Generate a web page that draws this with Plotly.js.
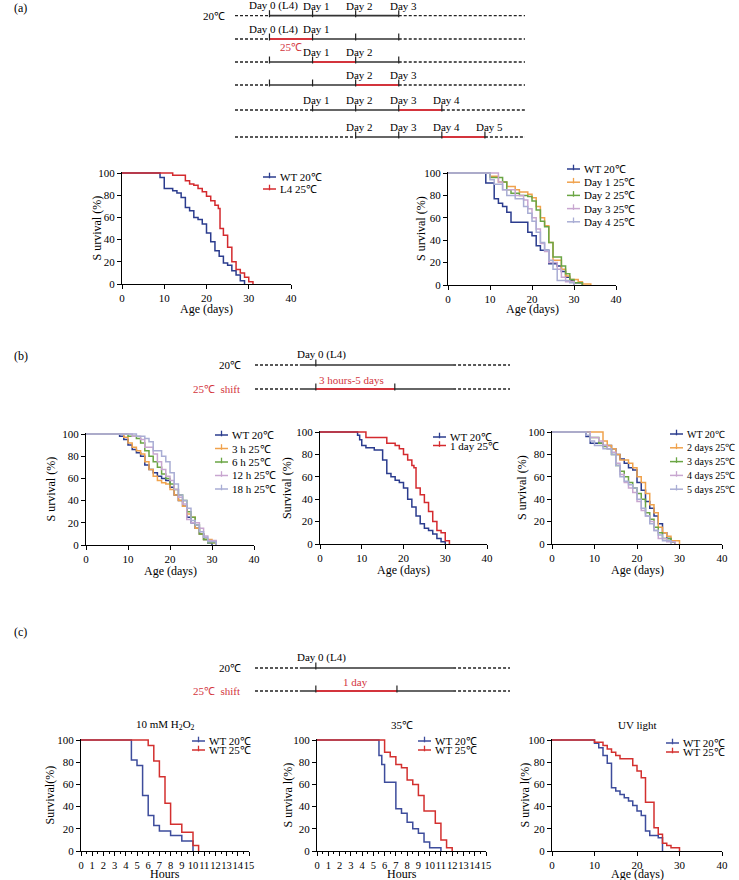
<!DOCTYPE html>
<html>
<head>
<meta charset="utf-8">
<script src="https://cdn.plot.ly/plotly-3.0.1.min.js"></script>
<style>
  html, body { margin: 0; padding: 0; background: #fff; }
  #chart { width: 739px; height: 880px; }
</style>
</head>
<body>
<div id="chart"></div>
<script>
// ---- survival data ----
// (a) left: WT 20C vs L4 shifted to 25C
const a1WtDays = [0, 9, 10, 12, 13, 14, 15, 16, 17, 18, 19, 20, 21, 22, 23, 24, 25, 26, 27, 28, 29];
const a1WtSurv = [100, 96, 86, 84, 82, 78, 69, 66, 60, 58, 54, 46, 38, 30, 25, 19, 17, 12, 8, 3, 0];
const a1L4Days = [0, 12, 15, 16, 17, 18, 19, 20, 21, 22, 22.8, 23.2, 24, 25, 26, 27, 28, 29, 30, 31];
const a1L4Surv = [100, 98, 93, 90, 89, 86, 83, 79, 75, 71, 68, 50, 44, 33, 20, 13, 10, 6, 2, 0];

// (a) right: one day at 25C, on day 1..4
const a2WtDays = [0, 9, 11, 12, 13, 14, 15, 19, 20, 21, 22, 24, 26, 27, 28, 29, 30, 32];
const a2WtSurv = [100, 91, 77, 73, 70, 65, 56, 47, 44, 35, 31, 19, 17, 12, 7, 4, 2, 0];
const a2D1Days = [0, 10, 12, 14, 16, 17, 19, 20, 21, 22, 23, 24, 25, 27, 28, 29, 31, 32, 34];
const a2D1Surv = [100, 97, 92, 88, 85, 83, 81, 78, 70, 60, 53, 38, 22, 14, 8, 5, 3, 1, 0];
const a2D2Days = [0, 10, 13, 14, 15, 17, 19, 20, 21, 22, 23, 24, 25, 27, 28, 29, 30, 32];
const a2D2Surv = [100, 96, 92, 85, 82, 80, 79, 75, 67, 57, 52, 38, 25, 17, 10, 5, 2, 0];
const a2D3Days = [0, 12, 13, 16, 18, 19, 20, 21, 22, 23, 24, 26, 27, 28, 30];
const a2D3Surv = [100, 92, 85, 80, 76, 68, 60, 50, 37, 30, 20, 14, 7, 3, 0];
const a2D4Days = [0, 10, 11, 13, 14, 16, 18, 19, 20, 21, 22, 23, 24, 25, 26, 29, 30];
const a2D4Surv = [100, 94, 90, 85, 80, 77, 70, 64, 57, 47, 38, 31, 22, 14, 4, 2, 0];

// (b) left: hours at 25C
const b1WtDays = [0, 8, 9, 10, 11, 12, 13, 14, 15, 16, 17, 18, 19, 20, 21, 22, 23, 24, 25, 26, 27, 28, 29, 30];
const b1WtSurv = [100, 98, 95, 90, 86, 83, 80, 72, 68, 65, 62, 60, 58, 52, 45, 40, 35, 25, 20, 15, 10, 5, 2, 0];
const b13hDays = [0, 9, 10, 11, 12, 13, 14, 15, 16, 17, 18, 19, 20, 21, 22, 23, 24, 25, 26, 27, 28, 30, 31];
const b13hSurv = [100, 97, 92, 88, 85, 82, 75, 68, 62, 58, 56, 55, 50, 45, 40, 35, 28, 25, 15, 10, 5, 2, 0];
const b16hDays = [0, 10, 12, 13, 14, 15, 16, 17, 18, 19, 20, 21, 22, 23, 24, 25, 26, 27, 28, 29, 31];
const b16hSurv = [100, 98, 96, 92, 85, 80, 75, 70, 64, 60, 55, 50, 45, 40, 30, 25, 18, 10, 5, 2, 0];
const b112hDays = [0, 11, 13, 14, 16, 17, 18, 19, 20, 21, 22, 23, 24, 25, 27, 28, 29, 31];
const b112hSurv = [100, 98, 95, 88, 82, 75, 68, 62, 58, 50, 43, 37, 23, 20, 15, 8, 4, 0];
const b118hDays = [0, 12, 14, 15, 16, 18, 19, 20, 21, 22, 23, 24, 25, 26, 27, 28, 29, 31];
const b118hSurv = [100, 98, 96, 93, 85, 80, 75, 65, 55, 45, 40, 33, 22, 18, 12, 7, 3, 0];

// (b) middle: 1 day at 25C
const b2WtDays = [0, 9, 9.5, 10, 11, 13, 15, 16, 17, 18, 19, 20, 21, 22, 23, 24, 25, 26, 27, 28, 29, 30];
const b2WtSurv = [100, 97, 93, 88, 86, 84, 75, 63, 60, 57, 55, 50, 40, 33, 25, 18, 14, 12, 9, 5, 2, 0];
const b2D1Days = [0, 11, 16, 18, 19, 20, 21, 22, 22.5, 23, 24, 25, 26, 27, 28, 29, 30, 31];
const b2D1Surv = [100, 95, 90, 88, 85, 80, 75, 70, 68, 50, 44, 37, 29, 20, 12, 10, 3, 0];

// (b) right: 2..5 days at 25C
const b3WtDays = [0, 8, 9, 12, 14, 15, 16, 17, 18, 19, 20, 21, 22, 23, 24, 25, 26, 27, 28, 29];
const b3WtSurv = [100, 96, 90, 88, 85, 80, 76, 72, 68, 66, 55, 48, 38, 32, 25, 18, 10, 5, 2, 0];
const b32dDays = [0, 12, 13, 14, 15, 16, 18, 19, 20, 21, 22, 23, 24, 25, 26, 27, 28, 30];
const b32dSurv = [100, 92, 88, 85, 80, 75, 72, 68, 60, 55, 45, 35, 28, 15, 10, 7, 3, 0];
const b33dDays = [0, 9, 11, 12, 13, 14, 15, 16, 17, 18, 19, 20, 21, 22, 23, 24, 25, 26, 28, 29];
const b33dSurv = [100, 95, 90, 87, 85, 80, 70, 65, 60, 55, 50, 45, 40, 28, 22, 15, 10, 5, 2, 0];
const b34dDays = [0, 9, 11, 12, 13, 14, 15, 16, 17, 18, 19, 20, 21, 22, 23, 24, 25, 27, 29];
const b34dSurv = [100, 95, 92, 88, 85, 82, 72, 62, 55, 50, 46, 38, 30, 25, 20, 12, 5, 2, 0];
const b35dDays = [0, 8, 9, 10, 12, 14, 15, 16, 17, 18, 19, 20, 21, 22, 23, 24, 25, 26, 28];
const b35dSurv = [100, 97, 92, 88, 85, 80, 70, 60, 56, 53, 50, 40, 32, 25, 18, 12, 8, 3, 0];

// (c) stress assays
const c1WtHours = [0, 4.5, 5, 5.5, 6, 6.5, 7, 8, 9, 10];
const c1WtSurv = [100, 82, 77, 50, 32, 23, 18, 14, 9, 0];
const c1HotHours = [0, 6, 6.5, 7, 7.5, 8, 9, 10, 10.5];
const c1HotSurv = [100, 95, 81, 67, 43, 24, 17, 5, 0];
const c2WtHours = [0, 5.5, 5.75, 6, 7, 7.5, 8, 8.5, 9, 9.5, 10, 11];
const c2WtSurv = [100, 86, 78, 62, 38, 34, 26, 20, 16, 8, 3, 0];
const c2HotHours = [0, 6, 6.5, 7, 7.5, 8, 8.5, 9, 9.5, 10.5, 11, 11.5, 12];
const c2HotSurv = [100, 89, 85, 78, 75, 64, 60, 50, 36, 25, 10, 3, 0];
const c3WtDays = [0, 10, 11, 12, 13, 14, 15, 16, 17, 18, 19, 20, 21, 22, 23, 25, 26];
const c3WtSurv = [100, 97, 93, 86, 79, 57, 54, 51, 48, 45, 41, 36, 32, 18, 14, 12, 0];
const c3HotDays = [0, 10, 12, 13, 14, 15, 16, 19, 20, 21, 22, 24, 25, 26, 27, 28, 30];
const c3HotSurv = [100, 98, 95, 92, 89, 86, 83, 77, 72, 66, 44, 21, 15, 7, 5, 3, 0];

// ---- schematics ----
// (a): span of the black timeline, the red 25C day and the tick days, per row
const rowSpan = [[0, 3], [0, 3], [0, 3], [0, 3], [1, 4], [2, 5]];
const rowRed = [null, [0, 1], [1, 2], [2, 3], [3, 4], [4, 5]];
const rowTicks = [[0, 1, 2, 3], [0, 1, 2, 3], [0, 1, 2, 3], [0, 1, 2, 3], [1, 2, 3, 4], [2, 3, 4, 5]];
const rowLabelDays = [[0, 1, 2, 3], [0, 1], [1, 2], [2, 3], [1, 2, 3, 4], [2, 3, 4, 5]];
const dayLabels = ['Day 0 (L4)', 'Day 1', 'Day 2', 'Day 3', 'Day 4', 'Day 5'];
// (b), (c): timeline around L4, with the red 25C stretch
const lineEnds = [-1.41, 4.5];
const lineSpan = [-0.37, 3.18];
const shiftB = [0, 1.83];
const shiftC = [0, 1.88];

// ---- style ----
const FONT = 'Liberation Serif, Times New Roman, serif';
const NAVY = '#2b3c8e', RED = '#d42a2e', ORANGE = '#f0a24c', GREEN = '#6aa544', LILAC = '#c8a6d0', GREY = '#a9add4';
const C_BLUE = '#3d4c9c', C_RED = '#d3302f', SHIFT_RED = '#d3343c';
const W = 739, H = 880;

const panels = [
  { box: [122, 291, 173, 284], xRange: [0, 40], xDtick: 10, xTitle: 'Age (days)', yTitle: 'S urvival (%)',
    yTitleX: 96, xTitleY: 309, legend: [263, 177, 12],
    series: [['WT 20℃', a1WtDays, a1WtSurv, NAVY], ['L4 25℃', a1L4Days, a1L4Surv, RED]] },
  { box: [448, 616, 173, 285], xRange: [0, 40], xDtick: 10, xTitle: 'Age (days)', yTitle: 'S urvival (%)',
    yTitleX: 421, xTitleY: 309, legend: [567, 169, 13.2],
    series: [['WT 20℃', a2WtDays, a2WtSurv, NAVY], ['Day 1 25℃', a2D1Days, a2D1Surv, ORANGE],
             ['Day 2 25℃', a2D2Days, a2D2Surv, GREEN], ['Day 3 25℃', a2D3Days, a2D3Surv, LILAC],
             ['Day 4 25℃', a2D4Days, a2D4Surv, GREY]] },
  { box: [86, 254, 434, 545], xRange: [0, 40], xDtick: 10, xTitle: 'Age (days)', yTitle: 'S urvival (%)',
    yTitleX: 50, xTitleY: 571, legend: [215, 435, 13.5],
    series: [['WT 20℃', b1WtDays, b1WtSurv, NAVY], ['3 h 25℃', b13hDays, b13hSurv, ORANGE],
             ['6 h 25℃', b16hDays, b16hSurv, GREEN], ['12 h 25℃', b112hDays, b112hSurv, LILAC],
             ['18 h 25℃', b118hDays, b118hSurv, GREY]] },
  { box: [320, 487, 432, 544], xRange: [0, 40], xDtick: 10, xTitle: 'Age (days)', yTitle: 'Survival (%)',
    yTitleX: 287, xTitleY: 570, legend: [433, 437, 8.5],
    series: [['WT 20℃', b2WtDays, b2WtSurv, NAVY], ['1 day 25℃', b2D1Days, b2D1Surv, RED]] },
  { box: [552, 722, 432, 544], xRange: [0, 40], xDtick: 10, xTitle: 'Age (days)', yTitle: 'S urvival (%)',
    yTitleX: 522, xTitleY: 570, legend: [670, 434, 13.8], legendSize: 10,
    series: [['WT 20℃', b3WtDays, b3WtSurv, NAVY], ['2 days 25℃', b32dDays, b32dSurv, ORANGE],
             ['3 days 25℃', b33dDays, b33dSurv, GREEN], ['4 days 25℃', b34dDays, b34dSurv, LILAC],
             ['5 days 25℃', b35dDays, b35dSurv, GREY]] },
  { box: [81, 249, 740, 851], xRange: [0, 15], xDtick: 1, minor: true, xTitle: 'Hours', yTitle: 'Survival(%)',
    yTitleX: 49, xTitleY: 874, legend: [192, 741, 9], title: '10 mM H<sub>2</sub>O<sub>2</sub>',
    series: [['WT 20℃', c1WtHours, c1WtSurv, C_BLUE], ['WT 25℃', c1HotHours, c1HotSurv, C_RED]] },
  { box: [317, 486, 740, 851], xRange: [0, 15], xDtick: 1, minor: true, xTitle: 'Hours', yTitle: 'S urviva l(%)',
    yTitleX: 287, xTitleY: 874, legend: [418, 741, 9], title: '35℃',
    series: [['WT 20℃', c2WtHours, c2WtSurv, C_BLUE], ['WT 25℃', c2HotHours, c2HotSurv, C_RED]] },
  { box: [552, 722, 740, 851], xRange: [0, 40], xDtick: 10, xTitle: 'Age (days)', yTitle: 'S urviva l(%)',
    yTitleX: 524, xTitleY: 874, legend: [666, 743, 9], title: 'UV light',
    series: [['WT 20℃', c3WtDays, c3WtSurv, C_BLUE], ['WT 25℃', c3HotDays, c3HotSurv, C_RED]] }
];

const traces = [];
const legendMarks = [];
const annotations = [];
const layout = {
  width: W, height: H, autosize: false,
  margin: { l: 0, r: 0, t: 0, b: 0 },
  paper_bgcolor: '#fff', plot_bgcolor: 'rgba(0,0,0,0)',
  showlegend: false,
  font: { family: FONT, size: 11, color: '#000' },
  annotations: annotations
};

function text(x, y, t, opts) {
  annotations.push(Object.assign({
    xref: 'paper', yref: 'paper', x: x / W, y: 1 - y / H, text: t, showarrow: false,
    xanchor: 'center', yanchor: 'middle', font: { family: FONT, size: 11, color: '#000' }
  }, opts || {}));
}

const axisStyle = {
  showline: true, linecolor: '#000', linewidth: 1, showgrid: false, zeroline: false,
  ticks: 'outside', ticklen: 4, tickwidth: 1, tickcolor: '#000', tickmode: 'linear', tick0: 0,
  tickangle: 0, tickfont: { family: FONT, size: 11, color: '#000' }, fixedrange: true
};

panels.forEach((p, i) => {
  const n = i + 1;
  const sfx = n === 1 ? '' : String(n);
  const [l, r, t, b] = p.box;
  const top = t - (b - t) * 0.01;
  layout['xaxis' + sfx] = Object.assign({}, axisStyle, {
    domain: [l / W, r / W], range: p.xRange, dtick: p.xDtick, anchor: 'y' + sfx
  }, p.minor ? {
    tickfont: { family: FONT, size: 10.5, color: '#000' },
    minor: { dtick: 0.5, ticks: 'outside', ticklen: 2, tickcolor: '#000' }
  } : {});
  layout['yaxis' + sfx] = Object.assign({}, axisStyle, {
    domain: [1 - b / H, 1 - top / H], range: [0, 101], dtick: 20, anchor: 'x' + sfx
  });
  p.series.forEach(([name, xs, ys, color]) => {
    traces.push({
      type: 'scatter', mode: 'lines', name: name, x: xs, y: ys,
      xaxis: 'x' + sfx, yaxis: 'y' + sfx, hoverinfo: 'skip',
      line: { shape: 'hv', color: color, width: 1.5 }
    });
  });
  // legend: a short line with a censor tick, then the name
  p.series.forEach(([name, , , color], k) => {
    const lx = p.legend[0], ly = p.legend[1] + k * p.legend[2];
    legendMarks.push({
      type: 'scatter', mode: 'lines', x: [lx, lx + 13], y: [ly, ly], xaxis: 'x12', yaxis: 'y12',
      hoverinfo: 'skip', line: { color: color, width: 1.5 }
    });
    legendMarks.push({
      type: 'scatter', mode: 'markers', x: [lx + 6.5], y: [ly - 1.5], xaxis: 'x12', yaxis: 'y12',
      hoverinfo: 'skip', marker: { symbol: 'line-ns', size: 4, line: { width: 1.3, color: color } }
    });
    text(lx + 15, ly, name, { xanchor: 'left', font: { family: FONT, size: p.legendSize || 11, color: '#000' } });
  });
  text(p.yTitleX, (t + b) / 2, p.yTitle, { textangle: -90, font: { family: FONT, size: 12, color: '#000' } });
  text((l + r) / 2, p.xTitleY, p.xTitle, { font: { family: FONT, size: 12, color: '#000' } });
  if (p.title) text((l + r) / 2, 725, p.title, { font: { family: FONT, size: 11, color: '#000' } });
});

// ---- hidden helper axes; y is in page pixels for the row positions ----
const hidden = { visible: false, fixedrange: true };
layout.xaxis9 = Object.assign({}, hidden, { domain: [235 / W, 525 / W], range: [-0.8, 5.93], anchor: 'y9' });
layout.yaxis9 = Object.assign({}, hidden, { domain: [1 - 150 / H, 1], range: [150, 0], anchor: 'x9' });
layout.xaxis10 = Object.assign({}, hidden, { domain: [255 / W, 510 / W], range: lineEnds, anchor: 'y10' });
layout.yaxis10 = Object.assign({}, hidden, { domain: [1 - 420 / H, 1 - 320 / H], range: [420, 320], anchor: 'x10' });
layout.xaxis11 = Object.assign({}, hidden, { domain: [255 / W, 510 / W], range: lineEnds, anchor: 'y11' });
layout.yaxis11 = Object.assign({}, hidden, { domain: [1 - 720 / H, 1 - 620 / H], range: [720, 620], anchor: 'x11' });
// whole page, for legend keys
layout.xaxis12 = Object.assign({}, hidden, { domain: [0, 1], range: [0, W], anchor: 'y12' });
layout.yaxis12 = Object.assign({}, hidden, { domain: [0, 1], range: [H, 0], anchor: 'x12' });

function timeline(ax, y, ends, span, red, ticks) {
  const base = { type: 'scatter', mode: 'lines', xaxis: 'x' + ax, yaxis: 'y' + ax, hoverinfo: 'skip' };
  traces.push(Object.assign({}, base, {
    x: [ends[0], span[0], null, span[1], ends[1]], y: [y, y, null, y, y],
    line: { color: '#222', width: 1.3, dash: '3px,2px' }
  }));
  traces.push(Object.assign({}, base, { x: span, y: [y, y], line: { color: '#333', width: 1.7 } }));
  if (red) traces.push(Object.assign({}, base, { x: red, y: [y, y], line: { color: SHIFT_RED, width: 1.8 } }));
  traces.push(Object.assign({}, base, {
    mode: 'markers', x: ticks, y: ticks.map(() => y - 2),
    marker: { symbol: 'line-ns', size: 5, line: { width: 1.2, color: '#222' } }
  }));
}

function axText(ax, x, y, t, opts) {
  annotations.push(Object.assign({
    xref: 'x' + ax, yref: 'y' + ax, x: x, y: y, text: t, showarrow: false,
    xanchor: 'center', yanchor: 'middle', font: { family: FONT, size: 11, color: '#000' }
  }, opts || {}));
}

const rowY = [15.7, 39, 62, 85, 110, 137];
rowY.forEach((y, i) => {
  timeline(9, y, [-0.8, 5.93], rowSpan[i], rowRed[i], rowTicks[i]);
  rowLabelDays[i].forEach(d => axText(9, d + 0.1, y - 10, dayLabels[d]));
});
text(227, 15.7, '20℃', { xanchor: 'right' });
axText(9, 0.5, 47, '25℃', { font: { family: FONT, size: 11, color: SHIFT_RED } });

// (b)
timeline(10, 365, lineEnds, lineSpan, null, [0]);
timeline(10, 389, lineEnds, lineSpan, shiftB, shiftB);
axText(10, 0.14, 354, 'Day 0 (L4)');
axText(10, 0.83, 380, '3 hours-5 days', { font: { family: FONT, size: 11, color: SHIFT_RED } });
text(243, 365, '20℃', { xanchor: 'right' });
text(242, 389, '25℃  shift', { xanchor: 'right', font: { family: FONT, size: 11, color: SHIFT_RED } });

// (c)
timeline(11, 668, lineEnds, lineSpan, null, [0]);
timeline(11, 691, lineEnds, lineSpan, shiftC, shiftC);
axText(11, 0.14, 657, 'Day 0 (L4)');
axText(11, 0.93, 682, '1 day', { font: { family: FONT, size: 11, color: SHIFT_RED } });
text(243, 668, '20℃', { xanchor: 'right' });
text(242, 691, '25℃  shift', { xanchor: 'right', font: { family: FONT, size: 11, color: SHIFT_RED } });

// panel letters
text(12, 8, '(a)', { xanchor: 'left', font: { family: FONT, size: 12, color: '#000' } });
text(12, 356, '(b)', { xanchor: 'left', font: { family: FONT, size: 12, color: '#000' } });
text(12, 632, '(c)', { xanchor: 'left', font: { family: FONT, size: 12, color: '#000' } });

Plotly.newPlot('chart', traces.concat(legendMarks), layout, { displayModeBar: false, staticPlot: true });
</script>
</body>
</html>
